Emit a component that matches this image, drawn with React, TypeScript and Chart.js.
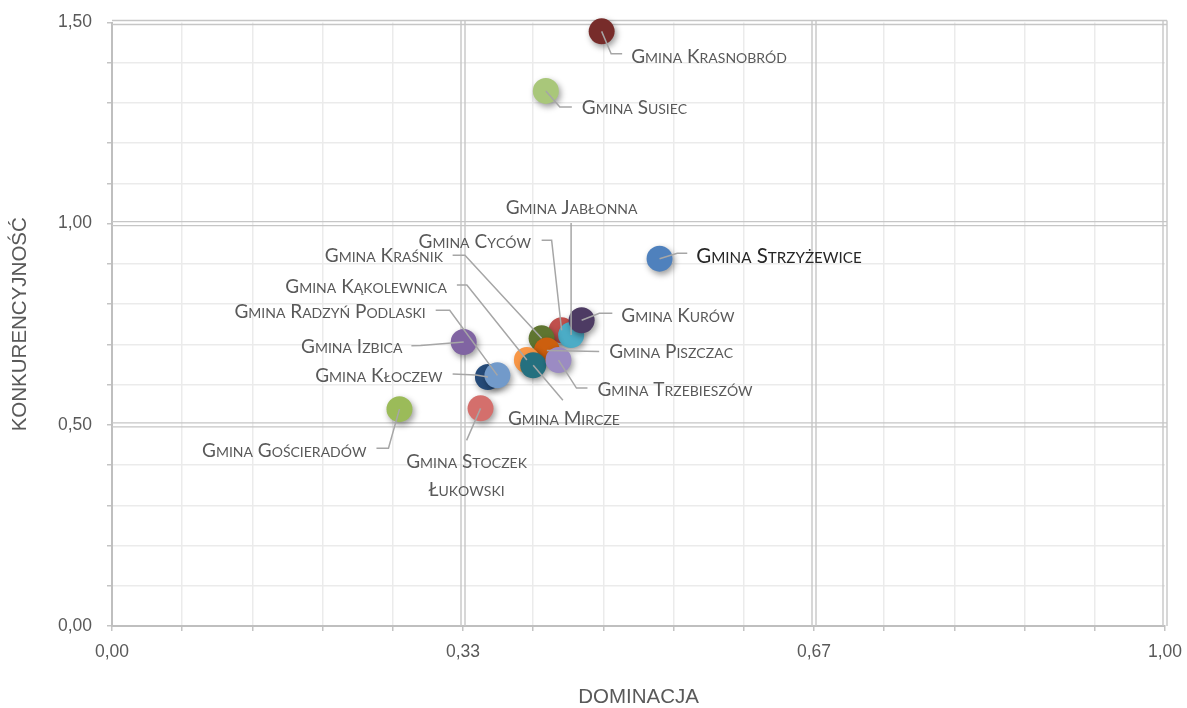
import React, { useEffect, useRef } from 'react';
import { Chart, registerables } from 'chart.js';

Chart.register(...registerables);

// ---------- DATA ----------
const names: string[] = [
  'Gmina Krasnobród',
  'Gmina Susiec',
  'Gmina Strzyżewice',
  'Gmina Cyców',
  'Gmina Jabłonna',
  'Gmina Kurów',
  'Gmina Kraśnik',
  'Gmina Piszczac',
  'Gmina Kąkolewnica',
  'Gmina Mircze',
  'Gmina Trzebieszów',
  'Gmina Izbica',
  'Gmina Kłoczew',
  'Gmina Radzyń Podlaski',
  'Gmina Gościeradów',
  'Gmina Stoczek|Łukowski',
];
const dominacja: number[] = [
  0.465, 0.412, 0.520, 0.427, 0.436, 0.446, 0.408, 0.413, 0.394, 0.400, 0.424, 0.334, 0.357, 0.366, 0.273, 0.350,
];
const konkurencyjnosc: number[] = [
  1.478, 1.330, 0.913, 0.735, 0.723, 0.760, 0.715, 0.685, 0.661, 0.648, 0.661, 0.706, 0.619, 0.623, 0.539, 0.541,
];
const colors: string[] = [
  '#772c2a', '#a9c77a', '#4f81bd', '#c0504d', '#4bacc6', '#4d3b63', '#5f7530', '#cc5f0f',
  '#f79646', '#25707f', '#9b8bc3', '#8064a2', '#254a78', '#729aca', '#9bbb59', '#d46f6c',
];
const xTickLabels: string[] = ['0,00', '0,33', '0,67', '1,00'];
const yTickLabels: string[] = ['0,00', '0,50', '1,00', '1,50'];
const xTitle = 'DOMINACJA';
const yTitle = 'KONKURENCYJNOŚĆ';

// ---------- LABEL LAYOUT (offsets from point centre, px) ----------
type Lay = { dx: number; dy: number; align: 'left' | 'right' | 'center'; leader: number[][]; strong?: boolean };
const labelLayout: Lay[] = [
  { dx: 29.5, dy: 24.5, align: 'left', leader: [[0, 0], [9.5, 22.5], [20.5, 22.5]] },
  { dx: 36, dy: 16, align: 'left', leader: [[0, 0], [14, 16], [26, 16]] },
  { dx: 36.7, dy: -3.3, align: 'left', leader: [[0, 0], [17.7, -5.3], [27.7, -5.3]], strong: true },
  { dx: -30.7, dy: -89, align: 'right', leader: [[0, 0], [-10, -90], [-20, -90]] },
  { dx: 0.5, dy: -128, align: 'center', leader: [[0, 0], [0, -112]] },
  { dx: 39.7, dy: -5, align: 'left', leader: [[0, 0], [17.7, -7], [30.7, -7]] },
  { dx: -98.7, dy: -83, align: 'right', leader: [[0, 0], [-76.7, -83], [-89, -83]] },
  { dx: 62.3, dy: 1, align: 'left', leader: [[0, 0], [52.3, 1]] },
  { dx: -80, dy: -74, align: 'right', leader: [[0, 0], [-60, -75], [-70, -75]] },
  { dx: -25.3, dy: 53, align: 'left', leader: [[0, 0], [29.7, 35]] },
  { dx: 39, dy: 29, align: 'left', leader: [[0, 0], [18, 28], [29, 28]] },
  { dx: -61.3, dy: 4.3, align: 'right', leader: [[0, 0], [-43, 3.6], [-52.3, 3.8]] },
  { dx: -45.3, dy: -2, align: 'right', leader: [[0, 0], [-12, -2], [-35.3, -3]] },
  { dx: -71.7, dy: -64, align: 'right', leader: [[0, 0], [-47.7, -65], [-61.7, -65]] },
  { dx: -33, dy: 41, align: 'right', leader: [[0, 0], [-11, 39], [-23, 39]] },
  { dx: -14, dy: 53, align: 'center', leader: [[0, 0], [-14, 32]] },
];

const LABEL_FONT = 'Lato, "Open Sans", sans-serif';
const AXIS_FONT = '"Liberation Sans Narrow", "Arial Narrow", "Liberation Sans", Arial, sans-serif';

function isUpper(c: string) {
  return c !== c.toLowerCase() && c === c.toUpperCase();
}

function drawSmallCaps(
  ctx: CanvasRenderingContext2D,
  text: string,
  x: number,
  yc: number,
  align: 'left' | 'right' | 'center',
  big: number,
  small: number,
  color: string
) {
  const parts: { ch: string; size: number }[] = [];
  for (const c of text) {
    if (c === ' ') parts.push({ ch: ' ', size: big });
    else if (isUpper(c)) parts.push({ ch: c, size: big });
    else parts.push({ ch: c.toUpperCase(), size: small });
  }
  let w = 0;
  for (const p of parts) {
    ctx.font = `${p.size}px ${LABEL_FONT}`;
    w += ctx.measureText(p.ch).width;
  }
  let cx = align === 'left' ? x : align === 'right' ? x - w : x - w / 2;
  const baseline = yc + big * 0.36;
  ctx.fillStyle = color;
  ctx.textAlign = 'left';
  ctx.textBaseline = 'alphabetic';
  for (const p of parts) {
    ctx.font = `${p.size}px ${LABEL_FONT}`;
    ctx.fillText(p.ch, cx, baseline);
    cx += ctx.measureText(p.ch).width;
  }
}

const shadowPlugin = {
  id: 'dotShadow',
  beforeDatasetsDraw(chart: any) {
    const ctx = chart.ctx;
    ctx.save();
    ctx.shadowColor = 'rgba(0,0,0,0.4)';
    ctx.shadowBlur = 6;
    ctx.shadowOffsetX = 2;
    ctx.shadowOffsetY = 3;
  },
  afterDatasetsDraw(chart: any) {
    chart.ctx.restore();
  },
};

const majorGridPlugin = {
  id: 'majorGrid',
  beforeDatasetsDraw(chart: any) {
    const ctx = chart.ctx;
    const { left, right, top, bottom } = chart.chartArea;
    const xs = chart.scales.x;
    const ys = chart.scales.y;
    ctx.save();
    ctx.strokeStyle = '#c6c6c6';
    ctx.lineWidth = 1.4;
    const gap = 2;
    [1 / 3, 2 / 3, 1].forEach((v) => {
      const px = xs.getPixelForValue(v);
      [-gap, gap].forEach((o) => {
        ctx.beginPath();
        ctx.moveTo(px + o, top - gap);
        ctx.lineTo(px + o, bottom);
        ctx.stroke();
      });
    });
    [0.5, 1.0, 1.5].forEach((v) => {
      const py = ys.getPixelForValue(v);
      [-gap, gap].forEach((o) => {
        ctx.beginPath();
        ctx.moveTo(left, py + o);
        ctx.lineTo(right + gap, py + o);
        ctx.stroke();
      });
    });
    ctx.restore();
  },
};

const labelPlugin = {
  id: 'pointLabels',
  afterDatasetsDraw(chart: any) {
    const ctx = chart.ctx;
    const meta = chart.getDatasetMeta(0);
    ctx.save();
    meta.data.forEach((el: any, i: number) => {
      const lay = labelLayout[i];
      const px = el.x;
      const py = el.y;
      ctx.strokeStyle = '#a6a6a6';
      ctx.lineWidth = 1.5;
      ctx.beginPath();
      lay.leader.forEach((p, j) => {
        if (j === 0) ctx.moveTo(px + p[0], py + p[1]);
        else ctx.lineTo(px + p[0], py + p[1]);
      });
      ctx.stroke();
      const lines = names[i].split('|');
      lines.forEach((line, k) => {
        if (lay.strong) {
          drawSmallCaps(ctx, line, px + lay.dx, py + lay.dy + k * 28, lay.align, 20.5, 15.2, '#262626');
        } else {
          drawSmallCaps(ctx, line, px + lay.dx, py + lay.dy + k * 28, lay.align, 19, 14, '#595959');
        }
      });
    });
    ctx.restore();
  },
};

export default function App() {
  const ref = useRef<HTMLCanvasElement | null>(null);
  useEffect(() => {
    if (!ref.current) return;
    const points = dominacja.map((x, i) => ({ x, y: konkurencyjnosc[i] }));
    const chart = new Chart(ref.current, {
      type: 'scatter',
      data: {
        datasets: [
          {
            data: points,
            backgroundColor: colors,
            borderWidth: 0,
            pointRadius: 13,
            pointHoverRadius: 13,
            clip: false as any,
          },
        ],
      },
      options: {
        animation: false,
        responsive: true,
        maintainAspectRatio: false,
        layout: { padding: { top: 22.5, right: 22, left: 0, bottom: 0 } },
        plugins: { legend: { display: false }, tooltip: { enabled: false } },
        scales: {
          x: {
            type: 'linear',
            min: 0,
            max: 1,
            afterBuildTicks: (scale: any) => {
              scale.ticks = Array.from({ length: 16 }, (_, i) => ({ value: i / 15 }));
            },
            afterFit: (scale: any) => {
              scale.height = 82;
              scale.paddingLeft = 0;
              scale.paddingRight = 0;
              scale.paddingTop = 0;
              scale.paddingBottom = 0;
            },
            ticks: {
              autoSkip: false,
              maxRotation: 0,
              padding: 11,
              color: '#595959',
              font: { family: AXIS_FONT, size: 17.5 },
              callback: (_v: any, index: number) => (index % 5 === 0 ? xTickLabels[index / 5] : ''),
            },
            grid: {
              color: (c: any) => (c.index % 5 === 0 ? 'rgba(0,0,0,0)' : '#ebebeb'),
              lineWidth: 1.5,
              tickColor: '#c4c4c4',
              tickLength: 5,
              drawTicks: true,
            },
            border: { display: true, color: '#bfbfbf', width: 2 },
            title: {
              display: true,
              text: xTitle,
              color: '#595959',
              font: { family: AXIS_FONT, size: 20.5, lineHeight: 1 },
              padding: { top: 0, bottom: 0 },
            },
          },
          y: {
            type: 'linear',
            min: 0,
            max: 1.5,
            afterBuildTicks: (scale: any) => {
              scale.ticks = Array.from({ length: 16 }, (_, i) => ({ value: i / 10 }));
            },
            afterFit: (scale: any) => {
              scale.width = 112;
              scale.paddingLeft = 0;
              scale.paddingRight = 0;
              scale.paddingTop = 0;
              scale.paddingBottom = 0;
            },
            ticks: {
              autoSkip: false,
              padding: 15,
              color: '#595959',
              font: { family: AXIS_FONT, size: 17.5 },
              callback: (_v: any, index: number) => (index % 5 === 0 ? yTickLabels[index / 5] : ''),
            },
            grid: {
              color: (c: any) => (c.index % 5 === 0 ? 'rgba(0,0,0,0)' : '#ebebeb'),
              lineWidth: 1.5,
              tickColor: '#c4c4c4',
              tickLength: 5,
              drawTicks: true,
            },
            border: { display: true, color: '#bfbfbf', width: 2 },
            title: {
              display: true,
              text: yTitle,
              color: '#595959',
              font: { family: AXIS_FONT, size: 20.5, lineHeight: 1 },
              padding: { top: 10, bottom: 0 },
            },
          },
        },
      },
      plugins: [majorGridPlugin, shadowPlugin, labelPlugin],
    } as any);
    return () => chart.destroy();
  }, []);
  return (
    <div style={{ position: 'fixed', left: 0, top: 0, width: 1187, height: 708, background: '#fff' }}>
      <canvas ref={ref} />
    </div>
  );
}
